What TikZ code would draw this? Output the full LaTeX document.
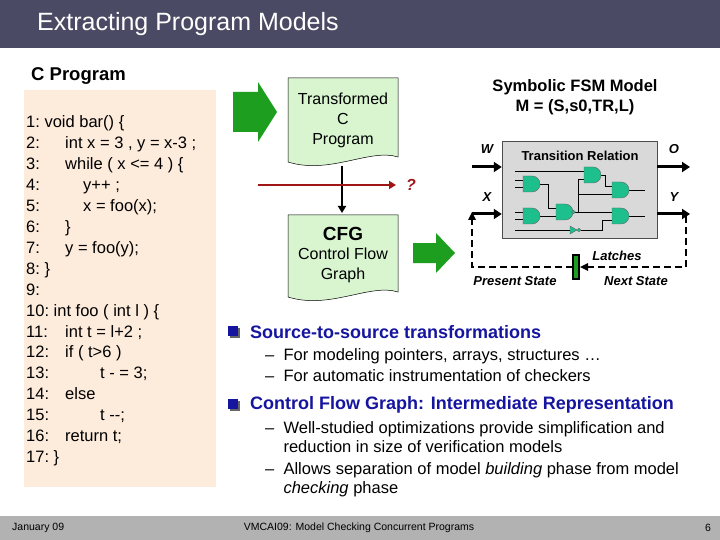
\documentclass[tikz,border=0pt]{standalone}
\usepackage{fontspec}
\setmainfont{Liberation Sans}
\usetikzlibrary{arrows.meta}
\definecolor{titlebar}{HTML}{4A4A64}
\definecolor{peach}{HTML}{FDEBDC}
\definecolor{docgreen}{HTML}{D8F5D0}
\definecolor{arrgreen}{HTML}{1E9E1E}
\definecolor{gatec}{HTML}{1DBF8C}
\definecolor{bblue}{HTML}{1515A0}
\definecolor{dred}{HTML}{A01515}
\tikzset{
  code/.style={anchor=base west,font=\fontsize{16.5}{16.5}\selectfont,inner sep=0},
  doc/.style={fill=docgreen,draw=black,line width=0.5pt},
  garrow/.style={fill=arrgreen,draw=none},
  bigarr/.style={line width=3pt,-{Triangle[length=8pt,width=10pt]}},
  lab/.style={font=\fontsize{13}{13}\selectfont\bfseries\itshape},
  wire/.style={line width=0.6pt},
  bul/.style={anchor=west,font=\fontsize{18}{18}\selectfont\bfseries,text=bblue,inner sep=0},
  sub/.style={anchor=north west,font=\fontsize{16.5}{21.5}\selectfont,inner sep=0,align=left},
}
\newcommand{\andgate}[2]{\fill[gatec,draw=black!60] (#1-7,#2-8) -- (#1+2,#2-8) arc (90:-90:8pt) -- (#1-7,#2+8) -- cycle;}
\begin{document}
\begin{tikzpicture}[x=1pt,y=-1pt]
\useasboundingbox (0,0) rectangle (720,540);
\fill[white] (0,0) rectangle (720,540);
\fill[titlebar] (0,0) rectangle (720,48);
\node[anchor=west,text=white,font=\fontsize{25}{25}\selectfont,inner sep=0] (title) at (37,24) {Extracting Program Models};
\fill[black!30] (0,516) rectangle (720,540);
\node[anchor=west,font=\fontsize{10.5}{10.5}\selectfont,inner sep=0] (f1) at (12,528) {January 09};
\node[font=\fontsize{10.5}{10.5}\selectfont,inner sep=0] (f2) at (359,528) {VMCAI09: Model Checking Concurrent Programs};
\node[font=\fontsize{10.5}{10.5}\selectfont,inner sep=0] (f3) at (708,528) {6};
% left panel
\node[anchor=west,font=\fontsize{18.5}{18.5}\selectfont\bfseries,inner sep=0] (cp) at (31,76) {C Program};
\fill[peach] (24,90) rectangle (216,487);
\foreach \n/\ind/\t [count=\i] in {1:/0/{void bar() \{},2:/1/{int x = 3 , y = x-3 ;},3:/1/{while ( x <= 4 ) \{},4:/2/{y++ ;},5:/2/{x = foo(x);},6:/1/{\}},7:/1/{y = foo(y);},8:/0/{\}},9:/0/{},10:/0/{int foo ( int l ) \{},11:/1/{int t = l+2 ;},12:/1/{if ( t>6 )},13:/3/{t - = 3;},14:/1/{else},15:/3/{t {-}{-};},16:/1/{return t;},17:/0/{\}}}
{
  \ifcase\ind
    \node[code] (c\i) at (26,128+20.9*\i-20.9) {\n\ \t};
  \or
    \node[code] (n\i) at (26,128+20.9*\i-20.9) {\n}; \node[code] (c\i) at (65,128+20.9*\i-20.9) {\t};
  \or
    \node[code] (n\i) at (26,128+20.9*\i-20.9) {\n}; \node[code] (c\i) at (83,128+20.9*\i-20.9) {\t};
  \or
    \node[code] (n\i) at (26,128+20.9*\i-20.9) {\n}; \node[code] (c\i) at (100,128+20.9*\i-20.9) {\t};
  \fi
}
% green arrows
\fill[garrow] (233,92) -- (258,92) -- (258,82) -- (277,112) -- (258,142) -- (258,132) -- (233,132) -- cycle;
\fill[garrow] (413,243) -- (436,243) -- (436,233) -- (455,253) -- (436,273) -- (436,263) -- (413,263) -- cycle;
% documents
\draw[doc] (288,78) -- (398,78) -- (398,157) .. controls (370,148) and (330,175) .. (288,162) -- cycle;
\node[align=center,font=\fontsize{16}{20}\selectfont,inner sep=0] (tcp) at (343,120) {Transformed\\C\\Program};
\draw[doc] (288,215) -- (398,215) -- (398,292) .. controls (370,283) and (330,310) .. (288,297) -- cycle;
\node[font=\fontsize{19}{19}\selectfont\bfseries,inner sep=0] (cfg) at (343,234) {CFG};
\node[align=center,font=\fontsize{16}{20}\selectfont,inner sep=0] (cfgt) at (343,265) {Control Flow\\Graph};
\coordinate (d1b) at (342,166);
\coordinate (d2t) at (342,213);
\draw[line width=2.5pt,-{Triangle[length=7pt,width=8pt]}] (d1b) -- (d2t);
\coordinate (rs) at (258,185);
\coordinate (re) at (396,185);
\draw[dred,line width=2.5pt,-{Triangle[length=7pt,width=8pt]}] (rs) -- (re);
\node[text=dred,font=\fontsize{16}{16}\selectfont\bfseries\itshape] (q) at (411,185) {?};
% FSM
\node[align=center,font=\fontsize{16.5}{20}\selectfont\bfseries,inner sep=0] (fsm) at (575,97) {Symbolic FSM Model\\M = (S,s0,TR,L)};
\node[fill=black!15,draw=black!70,minimum width=155pt,minimum height=97pt,inner sep=0] (tr) at (579.5,189.5) {};
\node[font=\fontsize{13}{13}\selectfont\bfseries,inner sep=0] (trl) at (580,156) {Transition Relation};
\coordinate (w0) at (472,167); \coordinate (x0) at (472,214);
\coordinate (o1) at (690,167); \coordinate (y1) at (690,214);
\draw[bigarr] (w0) -- (tr.west|-w0);
\draw[bigarr] (x0) -- (tr.west|-x0);
\draw[bigarr] (tr.east|-o1) -- (o1);
\draw[bigarr] (tr.east|-y1) -- (y1);
\node[lab] (lw) at (487,149) {W};
\node[lab] (lx) at (487,197) {X};
\node[lab] (lo) at (674,149) {O};
\node[lab] (ly) at (674,197) {Y};
% gates wiring
\begin{scope}[wire]
\draw (515,180) -- (523,180) (515,187) -- (523,187);
\draw (515,212) -- (523,212) (515,219) -- (523,219);
\draw (540,184) -- (548,184) -- (548,208) -- (556,208);
\draw (540,216) -- (556,216);
\draw (515,171) -- (584,171);
\draw (574,212) -- (578,212) -- (578,179) -- (584,179);
\draw (601,175) -- (605,175) -- (605,186) -- (612,186);
\draw (574,212) -- (612,212);
\draw (515,230) -- (570,230) (581,230) -- (602,230) -- (602,220) -- (612,220);
\draw (578,194) -- (612,194);
\draw (629,190) -- (645,190) (629,216) -- (645,216);
\end{scope}
\andgate{530}{184}
\andgate{530}{216}
\andgate{563}{212}
\fill[gatec,draw=black!60] (573.5,212) circle (1.8pt);
\andgate{591}{175}
\andgate{619}{190}
\andgate{619}{216}
\fill[gatec,draw=black!60] (570,226) -- (577,230) -- (570,234) -- cycle;
\fill[gatec,draw=black!60] (579,230) circle (1.8pt);
% feedback loop
\coordinate (l1) at (686,216); \coordinate (l2) at (686,267);
\coordinate (l3) at (472,267); \coordinate (l4) at (472,218);
\draw[line width=2pt,dash pattern=on 7pt off 4pt] (l1) -- (l2) -- (583,267);
\draw[line width=2pt,dash pattern=on 7pt off 4pt] (573,267) -- (l3) -- (l4);
\fill (472,212) -- (468,220) -- (476,220) -- cycle;
\fill (580,267) -- (588,263) -- (588,271) -- cycle;
\node[fill=arrgreen,draw=black,line width=1.5pt,minimum width=6pt,minimum height=24pt,inner sep=0] (latch) at (576,267) {};
\node[lab] (llat) at (617,256) {Latches};
\node[lab] (lps) at (515,281) {Present State};
\node[lab] (lns) at (636,281) {Next State};
% bullets
\foreach \yy in {332,405}{\fill[black!60] (230,\yy-4) rectangle (240,\yy+6); \fill[bblue] (228,\yy-6) rectangle (238,\yy+4);}
\node[bul] (b1) at (250,332) {Source-to-source transformations};
\node[sub] (s1) at (265,348) {--\ \ For modeling pointers, arrays, structures …\\--\ \ For automatic instrumentation of checkers};
\node[bul] (b2) at (250,405) {Control Flow Graph: Intermediate Representation};
\node[sub,font=\fontsize{16.5}{19}\selectfont] (s2) at (265,421) {--\ \ Well-studied optimizations provide simplification and\\\phantom{--\ \ }reduction in size of verification models\\[3pt]--\ \ Allows separation of model \textit{building} phase from model\\\phantom{--\ \ }\textit{checking} phase};
\end{tikzpicture}
\end{document}
